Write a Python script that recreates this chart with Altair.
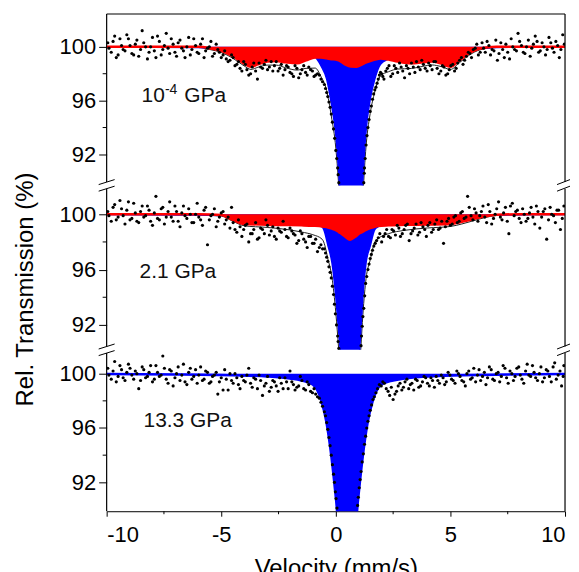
import altair as alt
import pandas as pd

FONT = "Liberation Sans"
W = 460

X_TICKS = [-10, -5, 0, 5, 10]
X_MINOR = [-7.5, -2.5, 2.5, 7.5]
Y_TICKS = [92, 96, 100]
Y_MINOR = [94, 98]

LABEL1 = ["10", "-4", "GPa"]
LABEL2 = ["2.1 GPa"]
LABEL3 = ["13.3 GPa"]
Y_TITLE = "Rel. Transmission (%)"
X_TITLE = "Velocity (mm/s)"

# ---- panel 1 : 10^-4 GPa ----
V1 = [-10, -8, -6, -5.5, -5, -4.5, -4, -3.7, -3.4, -3, -2.6, -2.2, -1.7, -1.3, -0.9,
      -0.65, -0.4, -0.2, 0, 0.15, 0.4, 0.66, 0.9, 1.17, 1.3, 1.5, 1.7, 1.95, 2.3, 2.7,
      3.3, 3.8, 4.2, 4.6, 5.0, 5.4, 5.8, 6.3, 7, 8, 10]
RED1 = [100, 100, 100, 99.9, 99.7, 99.3, 98.75, 98.52, 98.7, 98.9, 98.95, 98.85, 98.77, 99.0, 99.2,
        99.2, 99.15, 99.08, 99.05, 98.98, 98.7, 98.53, 98.52, 98.72, 98.82, 98.95, 99.05, 99.14, 99.05, 98.9,
        98.77, 98.85, 98.9, 98.75, 98.52, 99.0, 99.5, 99.88, 100, 100, 100]
BLUE1 = [99.98, 99.97, 99.95, 99.9, 99.88, 99.86, 99.83, 99.8, 99.78, 99.74, 99.69, 99.6, 99.5, 99.4, 99.22,
         98.6, 97.6, 95.8, 93.4, 90.0, 80, 78, 80, 89.8, 93.4, 96.1, 97.6, 98.7, 99.1, 99.45,
         99.62, 99.7, 99.75, 99.78, 99.8, 99.83, 99.86, 99.9, 99.95, 99.97, 99.98]
DOTS1 = [(-9.95, 100.3), (-9.8, 99.6), (-9.65, 100.8), (-9.5, 99.4), (-9.35, 100.1), (-9.2, 99.7),
         (-9.05, 100.6), (-8.9, 99.5), (-8.75, 100.2), (-8.6, 99.3), (-8.45, 101.2), (-8.3, 100.0),
         (-8.15, 99.6), (-8.0, 100.7), (-7.85, 99.2), (-7.7, 100.4), (-7.55, 99.8), (-7.4, 101.0),
         (-7.25, 99.5), (-7.1, 100.2), (-6.95, 99.3), (-6.8, 100.5), (-6.65, 99.7), (-6.5, 100.0),
         (-6.35, 99.4), (-6.2, 100.6), (-6.05, 99.6), (-5.9, 100.2), (-5.75, 99.2), (-5.6, 99.9),
         (-5.45, 100.4), (-5.3, 99.5), (-5.15, 99.8), (-5.0, 99.2), (-4.85, 99.7), (-4.7, 98.9),
         (-4.55, 99.4), (-4.4, 98.6), (-4.25, 98.9), (-4.1, 98.2), (-3.95, 98.7), (-3.8, 97.9),
         (-3.65, 98.5), (-3.5, 98.2), (-3.35, 98.8), (-3.2, 98.4), (-3.05, 99.0), (-2.9, 98.5),
         (-2.75, 98.2), (-2.6, 98.9), (-2.45, 98.4), (-2.3, 97.9), (-2.15, 98.6), (-2.0, 98.1),
         (-1.85, 97.8), (-1.7, 98.4), (-1.55, 98.0), (-1.4, 98.6), (-1.25, 97.9), (-1.1, 98.3),
         (-0.95, 97.8), (-0.8, 98.0), (-0.65, 97.6), (-0.5, 97.2), (-0.4, 96.6), (-0.3, 95.9),
         (-0.2, 95.0), (-0.1, 93.9), (0.0, 92.3), (0.08, 91.0), (0.13, 89.9), (1.22, 89.9),
         (1.25, 91.0), (1.32, 92.7), (1.4, 94.0), (1.5, 95.2), (1.6, 96.1), (1.7, 96.8),
         (1.8, 97.3), (1.9, 97.9), (2.0, 98.0), (2.1, 97.6), (2.25, 98.4), (2.4, 97.8),
         (2.55, 98.6), (2.7, 98.1), (2.85, 98.5), (3.0, 97.7), (3.15, 98.4), (3.3, 98.8),
         (3.45, 98.1), (3.6, 98.5), (3.75, 99.0), (3.9, 98.4), (4.05, 98.8), (4.2, 98.3),
         (4.35, 98.9), (4.5, 98.0), (4.65, 98.6), (4.8, 97.9), (4.95, 98.3), (5.1, 98.7),
         (5.25, 98.4), (5.4, 99.0), (5.55, 98.7), (5.7, 99.3), (5.85, 99.5), (6.0, 99.8),
         (6.15, 100.2), (6.3, 99.6), (6.45, 99.9), (6.6, 100.4), (6.75, 99.4), (6.9, 99.7),
         (7.05, 99.0), (7.2, 100.3), (7.35, 99.2), (7.5, 99.6), (7.65, 100.6), (7.8, 99.8),
         (7.95, 101.0), (8.1, 100.1), (8.25, 99.5), (8.4, 100.5), (8.55, 99.9), (8.7, 100.8),
         (8.85, 99.6), (9.0, 100.3), (9.15, 99.4), (9.3, 100.7), (9.45, 99.9), (9.6, 100.4),
         (9.75, 99.2), (9.9, 100.9)]
DOTS1B = [(-9.9, 99.9), (-9.72, 100.4), (-9.58, 99.2), (-9.42, 100.6), (-9.28, 99.8), (-9.12, 100.9),
          (-8.98, 100.1), (-8.82, 99.4), (-8.68, 100.5), (-8.52, 99.8), (-8.38, 100.3), (-8.22, 99.1),
          (-8.08, 100.0), (-7.92, 99.7), (-7.78, 100.8), (-7.62, 99.4), (-7.48, 100.1), (-7.32, 99.9),
          (-7.18, 100.6), (-7.02, 99.6), (-6.88, 100.3), (-6.72, 99.9), (-6.58, 99.2), (-6.42, 100.7),
          (-6.28, 99.8), (-6.12, 100.1), (-5.98, 99.5), (-5.82, 100.6), (-5.68, 99.7), (-5.52, 100.0),
          (-5.38, 99.3), (-5.22, 100.2), (-5.08, 99.6), (-4.92, 99.4), (-4.78, 99.1), (-4.62, 99.0),
          (-4.48, 99.2), (-4.32, 98.7), (-4.18, 98.4), (-4.02, 98.9), (-3.88, 98.3), (-3.72, 98.0),
          (-3.58, 98.8), (-3.42, 97.6), (-3.28, 98.5), (-3.12, 98.7), (-2.98, 98.3), (-2.82, 98.9),
          (-2.68, 98.6), (-2.52, 98.2), (-2.38, 98.7), (-2.22, 98.3), (-2.08, 98.5), (-1.92, 98.0),
          (-1.78, 98.6), (-1.62, 97.7), (-1.48, 98.3), (-1.32, 98.1), (-1.18, 98.5), (-1.02, 98.2),
          (-0.88, 97.9), (-0.72, 97.9), (-0.58, 97.4), (-0.45, 96.9), (-0.35, 96.3), (-0.25, 95.5),
          (-0.15, 94.4), (-0.05, 93.2), (0.04, 91.7), (0.1, 90.5), (1.24, 90.6), (1.28, 91.7),
          (1.36, 93.4), (1.45, 94.6), (1.55, 95.6), (1.65, 96.5), (1.75, 97.0), (1.85, 97.6),
          (1.95, 98.1), (2.05, 97.8), (2.18, 98.2), (2.32, 98.6), (2.48, 98.0), (2.62, 98.4),
          (2.78, 98.8), (2.92, 98.2), (3.08, 98.6), (3.22, 98.0), (3.38, 98.5), (3.52, 98.9),
          (3.68, 98.3), (3.82, 98.7), (3.98, 98.2), (4.12, 98.6), (4.28, 98.9), (4.42, 98.4),
          (4.58, 98.2), (4.72, 98.5), (4.88, 98.0), (5.02, 98.6), (5.18, 98.2), (5.32, 98.8),
          (5.48, 99.2), (5.62, 99.0), (5.78, 99.6), (5.92, 99.2), (6.08, 99.9), (6.22, 99.4),
          (6.38, 100.3), (6.52, 99.6), (6.68, 100.1), (6.82, 99.8), (6.98, 100.5), (7.12, 99.5),
          (7.28, 99.8), (7.42, 100.2), (7.58, 99.1), (7.72, 100.0), (7.88, 99.7), (8.02, 100.4),
          (8.18, 99.6), (8.32, 100.0), (8.48, 99.3), (8.62, 100.2), (8.78, 100.4), (8.92, 99.7),
          (9.08, 100.0), (9.22, 99.8), (9.38, 100.3), (9.52, 99.6), (9.68, 100.1), (9.82, 99.8),
          (9.97, 100.2)]

# ---- panel 2 : 2.1 GPa ----
V2 = [-10, -6, -5, -4.5, -4, -3, -2, -1.5, -1, -0.6, -0.53, -0.34, -0.17, 0, 0.12,
      0.2, 0.4, 0.62, 0.85, 1.03, 1.09, 1.18, 1.32, 1.5, 1.7, 1.85, 2.3, 3, 4, 5,
      5.5, 6, 6.5, 7, 8, 10]
RED2 = [100, 100, 99.95, 99.6, 99.3, 99.25, 99.22, 99.2, 99.17, 99.12, 99.1, 99.04, 98.96, 98.86, 98.73,
        98.64, 98.4, 98.16, 98.38, 98.62, 98.67, 98.75, 98.87, 99.0, 99.1, 99.15, 99.2, 99.24, 99.26, 99.3,
        99.45, 99.65, 99.85, 99.97, 100, 100]
BLUE2 = [99.98, 99.95, 99.92, 99.9, 99.87, 99.8, 99.65, 99.52, 99.35, 99.08, 98.9, 97.7, 96.5, 94.0, 91.6,
         89.9, 81, 79, 81, 89.9, 91.6, 94.0, 96.5, 97.7, 98.9, 99.1, 99.4, 99.6, 99.75, 99.82,
         99.85, 99.88, 99.91, 99.94, 99.97, 99.98]
DOTS2 = [(-9.95, 100.2), (-9.8, 99.5), (-9.65, 100.7), (-9.5, 99.8), (-9.35, 100.4), (-9.2, 99.3),
         (-9.05, 100.9), (-8.9, 99.7), (-8.75, 100.1), (-8.6, 99.4), (-8.45, 100.6), (-8.3, 99.9),
         (-8.15, 100.3), (-8.0, 99.2), (-7.85, 101.3), (-7.7, 99.6), (-7.55, 100.5), (-7.4, 99.8),
         (-7.25, 100.9), (-7.1, 99.5), (-6.95, 100.2), (-6.8, 99.1), (-6.65, 100.6), (-6.5, 99.7),
         (-6.35, 100.0), (-6.2, 99.4), (-6.05, 100.8), (-5.9, 99.6), (-5.75, 100.3), (-5.6, 97.8),
         (-5.45, 99.9), (-5.3, 100.4), (-5.15, 99.5), (-5.0, 100.1), (-4.85, 99.3), (-4.7, 99.8),
         (-4.55, 100.5), (-4.4, 98.9), (-4.25, 99.6), (-4.1, 98.4), (-3.95, 99.2), (-3.8, 98.0),
         (-3.65, 98.6), (-3.5, 99.4), (-3.35, 98.3), (-3.2, 98.9), (-3.05, 99.6), (-2.9, 98.5),
         (-2.75, 99.1), (-2.6, 98.2), (-2.45, 98.8), (-2.3, 99.5), (-2.15, 98.4), (-2.0, 99.0),
         (-1.85, 98.6), (-1.7, 97.9), (-1.55, 98.8), (-1.4, 98.2), (-1.25, 97.6), (-1.1, 98.4),
         (-0.95, 97.9), (-0.8, 97.3), (-0.65, 97.8), (-0.5, 97.5), (-0.4, 96.9), (-0.3, 96.2),
         (-0.2, 95.4), (-0.1, 94.2), (-0.02, 92.8), (0.08, 91.2), (0.13, 90.3), (1.1, 90.5),
         (1.15, 91.9), (1.22, 93.2), (1.3, 95.0), (1.4, 96.0), (1.5, 96.8), (1.6, 97.4),
         (1.72, 97.9), (1.85, 98.3), (2.0, 98.0), (2.15, 98.6), (2.3, 98.4), (2.45, 98.9),
         (2.6, 98.5), (2.75, 99.0), (2.9, 98.6), (3.05, 99.2), (3.2, 98.1), (3.35, 98.8),
         (3.5, 99.3), (3.65, 98.7), (3.8, 99.1), (3.95, 98.4), (4.1, 99.4), (4.25, 98.9),
         (4.4, 99.6), (4.55, 99.0), (4.7, 97.9), (4.85, 99.5), (5.0, 99.2), (5.15, 99.8),
         (5.3, 99.4), (5.45, 100.1), (5.6, 99.7), (5.75, 101.3), (5.9, 99.9), (6.05, 100.4),
         (6.2, 99.5), (6.35, 100.2), (6.5, 99.8), (6.65, 100.7), (6.8, 99.3), (6.95, 100.0),
         (7.1, 100.9), (7.25, 99.6), (7.4, 100.5), (7.55, 98.6), (7.7, 100.8), (7.85, 100.2),
         (8.0, 99.7), (8.15, 100.4), (8.3, 99.5), (8.45, 100.1), (8.6, 99.8), (8.75, 100.6),
         (8.9, 99.0), (9.05, 100.2), (9.2, 98.2), (9.35, 100.5), (9.5, 99.9), (9.65, 100.3),
         (9.8, 98.9), (9.95, 100.6)]
DOTS2B = [(-9.9, 99.9), (-9.72, 100.5), (-9.58, 99.6), (-9.42, 101.0), (-9.28, 99.9), (-9.12, 100.3),
          (-8.98, 99.6), (-8.82, 100.8), (-8.68, 99.5), (-8.52, 100.2), (-8.38, 99.8), (-8.22, 100.6),
          (-8.08, 99.5), (-7.92, 100.1), (-7.78, 99.7), (-7.62, 100.4), (-7.48, 99.3), (-7.32, 100.2),
          (-7.18, 99.8), (-7.02, 100.6), (-6.88, 99.5), (-6.72, 100.1), (-6.58, 99.9), (-6.42, 100.4),
          (-6.28, 99.4), (-6.12, 100.0), (-5.98, 99.8), (-5.82, 99.2), (-5.68, 100.5), (-5.52, 99.6),
          (-5.38, 100.0), (-5.22, 99.1), (-5.08, 99.8), (-4.92, 100.2), (-4.78, 99.6), (-4.62, 99.0),
          (-4.48, 99.4), (-4.32, 98.7), (-4.18, 99.1), (-4.02, 98.9), (-3.88, 99.3), (-3.72, 98.6),
          (-3.58, 98.9), (-3.42, 98.2), (-3.28, 99.0), (-3.12, 98.6), (-2.98, 99.2), (-2.82, 98.8),
          (-2.68, 98.4), (-2.52, 99.0), (-2.38, 98.7), (-2.22, 98.9), (-2.08, 98.3), (-1.92, 98.8),
          (-1.78, 98.5), (-1.62, 98.1), (-1.48, 98.6), (-1.32, 98.0), (-1.18, 98.4), (-1.02, 97.9),
          (-0.88, 98.2), (-0.72, 97.6), (-0.58, 97.5), (-0.45, 97.2), (-0.35, 96.6), (-0.25, 95.8),
          (-0.15, 94.8), (-0.06, 93.5), (0.03, 92.0), (0.1, 90.8), (1.12, 91.2), (1.18, 92.6),
          (1.26, 94.1), (1.35, 95.5), (1.45, 96.4), (1.55, 97.1), (1.66, 97.7), (1.78, 98.1),
          (1.92, 98.6), (2.08, 98.4), (2.22, 98.9), (2.38, 98.3), (2.52, 98.8), (2.68, 99.2),
          (2.82, 98.4), (2.98, 98.9), (3.12, 99.3), (3.28, 98.6), (3.42, 99.0), (3.58, 98.5),
          (3.72, 99.4), (3.88, 98.9), (4.02, 99.2), (4.18, 98.7), (4.32, 99.3), (4.48, 98.9),
          (4.62, 99.5), (4.78, 99.1), (4.92, 99.7), (5.08, 99.3), (5.22, 99.9), (5.38, 99.5),
          (5.52, 100.2), (5.68, 99.8), (5.82, 100.5), (5.98, 99.6), (6.12, 100.1), (6.28, 99.9),
          (6.42, 100.6), (6.58, 99.4), (6.72, 100.2), (6.88, 99.7), (7.02, 100.4), (7.18, 99.8),
          (7.32, 100.1), (7.48, 99.5), (7.62, 100.6), (7.78, 99.9), (7.92, 100.3), (8.08, 99.4),
          (8.22, 100.0), (8.38, 99.7), (8.52, 100.5), (8.68, 99.3), (8.82, 100.2), (8.98, 99.8),
          (9.12, 100.4), (9.28, 99.6), (9.42, 100.0), (9.58, 99.4), (9.72, 100.3), (9.88, 99.7)]

# ---- panel 3 : 13.3 GPa ----
V3 = [-10, -7, -4.5, -3, -2, -1.5, -1.01, -0.63, -0.41, -0.2, -0.04, 0.05, 0.25, 0.49,
      0.73, 0.93, 1.02, 1.18, 1.39, 1.61, 1.99, 2.5, 3, 4, 5.5, 7, 10]
BLUE3 = [99.97, 99.94, 99.88, 99.8, 99.65, 99.5, 99.2, 98.0, 96.42, 93.97, 91.52, 89.93, 82, 79,
         82, 89.93, 91.52, 93.97, 96.42, 98.0, 99.2, 99.5, 99.65, 99.8, 99.88, 99.93, 99.97]
DOTS3 = [(-9.95, 100.4), (-9.8, 99.6), (-9.65, 100.9), (-9.5, 99.8), (-9.35, 100.3), (-9.2, 99.5),
         (-9.05, 100.7), (-8.9, 99.9), (-8.75, 100.2), (-8.6, 98.9), (-8.45, 100.5), (-8.3, 99.7),
         (-8.15, 100.1), (-8.0, 99.4), (-7.85, 100.6), (-7.7, 99.8), (-7.55, 101.3), (-7.4, 99.6),
         (-7.25, 100.3), (-7.1, 99.1), (-6.95, 100.0), (-6.8, 99.5), (-6.65, 100.7), (-6.5, 99.2),
         (-6.35, 100.4), (-6.2, 99.8), (-6.05, 99.3), (-5.9, 100.5), (-5.75, 99.6), (-5.6, 100.1),
         (-5.45, 99.4), (-5.3, 99.9), (-5.15, 98.5), (-5.0, 99.7), (-4.85, 100.3), (-4.7, 98.8),
         (-4.55, 99.5), (-4.4, 100.0), (-4.25, 99.2), (-4.1, 99.8), (-3.95, 99.4), (-3.8, 100.4),
         (-3.65, 99.0), (-3.5, 99.6), (-3.35, 99.9), (-3.2, 98.4), (-3.05, 99.3), (-2.9, 98.7),
         (-2.75, 99.5), (-2.6, 99.1), (-2.45, 99.7), (-2.3, 98.9), (-2.15, 99.4), (-2.0, 100.2),
         (-1.85, 99.2), (-1.7, 99.0), (-1.55, 99.8), (-1.4, 98.9), (-1.25, 99.4), (-1.1, 98.7),
         (-0.95, 98.9), (-0.8, 98.3), (-0.65, 97.9), (-0.5, 97.2), (-0.4, 96.4), (-0.3, 95.3),
         (-0.2, 94.0), (-0.1, 92.6), (-0.02, 91.3), (0.05, 90.1), (0.95, 90.3), (1.02, 91.6),
         (1.1, 92.8), (1.2, 94.1), (1.3, 95.4), (1.4, 96.5), (1.5, 97.3), (1.62, 98.1),
         (1.75, 98.6), (1.9, 99.2), (2.05, 99.4), (2.2, 98.9), (2.35, 98.4), (2.5, 98.1),
         (2.65, 98.7), (2.8, 99.3), (2.95, 99.0), (3.1, 99.6), (3.25, 99.2), (3.4, 98.8),
         (3.55, 99.5), (3.7, 99.1), (3.85, 99.8), (4.0, 99.3), (4.15, 99.7), (4.3, 99.0),
         (4.45, 99.5), (4.6, 99.9), (4.75, 99.2), (4.9, 100.1), (5.05, 99.6), (5.2, 99.3),
         (5.35, 100.0), (5.5, 99.5), (5.65, 99.1), (5.8, 100.2), (5.95, 99.7), (6.1, 99.4),
         (6.25, 100.3), (6.4, 99.8), (6.55, 99.2), (6.7, 100.5), (6.85, 99.6), (7.0, 100.0),
         (7.15, 99.4), (7.3, 100.6), (7.45, 99.7), (7.6, 100.2), (7.75, 99.5), (7.9, 100.4),
         (8.05, 99.9), (8.2, 99.3), (8.35, 100.7), (8.5, 99.8), (8.65, 100.1), (8.8, 99.5),
         (8.95, 100.5), (9.1, 99.7), (9.25, 100.2), (9.4, 99.4), (9.55, 100.8), (9.7, 99.9),
         (9.85, 99.1), (9.95, 100.6)]
DOTS3B = [(-9.9, 99.9), (-9.72, 100.2), (-9.58, 99.4), (-9.42, 100.6), (-9.28, 99.7), (-9.12, 100.1),
          (-8.98, 100.4), (-8.82, 99.6), (-8.68, 100.0), (-8.52, 99.5), (-8.38, 100.3), (-8.22, 99.8),
          (-8.08, 100.6), (-7.92, 99.6), (-7.78, 100.1), (-7.62, 99.9), (-7.48, 100.4), (-7.32, 99.3),
          (-7.18, 100.2), (-7.02, 99.7), (-6.88, 100.5), (-6.72, 99.9), (-6.58, 99.4), (-6.42, 100.1),
          (-6.28, 99.6), (-6.12, 100.3), (-5.98, 99.9), (-5.82, 99.5), (-5.68, 100.2), (-5.52, 99.3),
          (-5.38, 99.8), (-5.22, 100.1), (-5.08, 99.4), (-4.92, 98.8), (-4.78, 99.6), (-4.62, 100.0),
          (-4.48, 99.3), (-4.32, 99.7), (-4.18, 98.9), (-4.02, 99.5), (-3.88, 99.9), (-3.72, 99.3),
          (-3.58, 99.7), (-3.42, 98.9), (-3.28, 99.5), (-3.12, 99.1), (-2.98, 99.8), (-2.82, 99.0),
          (-2.68, 99.4), (-2.52, 98.7), (-2.38, 99.3), (-2.22, 99.7), (-2.08, 98.9), (-1.92, 99.4),
          (-1.78, 98.8), (-1.62, 99.1), (-1.48, 99.5), (-1.32, 98.8), (-1.18, 99.2), (-1.02, 98.6),
          (-0.88, 98.5), (-0.72, 98.2), (-0.58, 97.6), (-0.45, 96.9), (-0.35, 95.9), (-0.25, 94.7),
          (-0.15, 93.3), (-0.06, 92.0), (0.01, 90.8), (0.98, 90.9), (1.06, 92.2), (1.15, 93.5),
          (1.25, 94.8), (1.35, 96.0), (1.45, 96.9), (1.56, 97.7), (1.68, 98.3), (1.82, 98.9),
          (1.98, 99.1), (2.12, 99.3), (2.28, 98.7), (2.42, 99.0), (2.58, 98.5), (2.72, 99.1),
          (2.88, 98.8), (3.02, 99.4), (3.18, 98.9), (3.32, 99.3), (3.48, 99.6), (3.62, 99.0),
          (3.78, 99.4), (3.92, 99.7), (4.08, 99.1), (4.22, 99.5), (4.38, 99.8), (4.52, 99.3),
          (4.68, 99.7), (4.82, 99.4), (4.98, 99.9), (5.12, 99.5), (5.28, 100.2), (5.42, 99.8),
          (5.58, 99.4), (5.72, 100.0), (5.88, 99.6), (6.02, 100.4), (6.18, 99.9), (6.32, 99.5),
          (6.48, 100.1), (6.62, 99.7), (6.78, 100.3), (6.92, 99.5), (7.08, 100.1), (7.22, 99.8),
          (7.38, 100.4), (7.52, 99.3), (7.68, 100.0), (7.82, 99.8), (7.98, 100.5), (8.12, 99.6),
          (8.28, 100.2), (8.42, 99.9), (8.58, 100.6), (8.72, 99.7), (8.88, 100.0), (9.02, 99.4),
          (9.18, 100.3), (9.32, 99.8), (9.48, 100.5), (9.62, 99.6), (9.78, 100.2), (9.92, 99.8)]

xs = alt.Scale(domain=[-10, 10], nice=False, zero=False)
DUMMY = pd.DataFrame({"a": [0]})


def y_axis(title):
    kw = dict(values=Y_TICKS, domain=False, grid=False, tickSize=8, tickColor="black",
              tickWidth=1, labelFontSize=22, labelFont=FONT, labelColor="black", labelPadding=3)
    if title:
        kw.update(title=title, titleFontSize=24, titleFont=FONT, titleFontWeight="normal",
                  titleColor="black", titleX=-74, titleY=104, titleAlign="center",
                  titleBaseline="alphabetic", titleAngle=270)
    else:
        kw["title"] = None
    return alt.Axis(**kw)


X_AXIS = alt.Axis(values=X_TICKS, labelExpr="'' + datum.value", grid=False, tickSize=5,
                  tickColor="black", domainColor="black", labelFontSize=22, labelFont=FONT,
                  labelColor="black", labelPadding=8, title=X_TITLE, titleFontSize=24,
                  titleFont=FONT, titleFontWeight="normal", titleColor="black", titlePadding=11)


def vline(x, y0, y1):
    return alt.Chart(DUMMY).mark_rule(color="black", strokeWidth=1.2).encode(
        x=alt.value(x), y=alt.value(y0), y2=alt.value(y1))


def slashes(x, b, left, right):
    out = []
    for c in (b - 3.3, b + 3.3):
        out.append(alt.Chart(DUMMY).mark_rule(color="black", strokeWidth=1).encode(
            x=alt.value(x - left), x2=alt.value(x + right), y=alt.value(c + 2.5), y2=alt.value(c - 2.5)))
    return out


def panel(V, BLUE, RED, DOTS, ydom, H, texts, xaxis, ytitle, top_border, break_top, break_bottom):
    ys = alt.Scale(domain=ydom, nice=False, zero=False)
    yax = y_axis(ytitle)
    if RED is None:
        fit = list(BLUE)
    else:
        fit = [r + b - 100 for r, b in zip(RED, BLUE)]
    cur = pd.DataFrame({"v": V, "blue": BLUE, "fit": fit, "base": [100] * len(V)})
    if RED is not None:
        cur["red"] = RED

    def X():
        return alt.X("v:Q", scale=xs, axis=xaxis)

    blue_w = 2.5 if RED is None else 1.5
    layers = [
        alt.Chart(cur).mark_line(color="#222222", strokeWidth=1, interpolate="monotone", clip=True)
        .encode(x=X(), y=alt.Y("fit:Q", scale=ys, axis=yax)),
        alt.Chart(cur).mark_area(color="#0000ff", opacity=1, interpolate="monotone", clip=True)
        .encode(x=X(), y=alt.Y("blue:Q", scale=ys, axis=yax), y2=alt.Y2("base:Q")),
        alt.Chart(cur).mark_line(color="#0000ff", strokeWidth=blue_w, interpolate="monotone", clip=True)
        .encode(x=X(), y=alt.Y("blue:Q", scale=ys, axis=yax)),
    ]
    if RED is not None:
        layers += [
            alt.Chart(cur).mark_area(color="#ff0000", opacity=1, interpolate="monotone", clip=True)
            .encode(x=X(), y=alt.Y("red:Q", scale=ys, axis=yax), y2=alt.Y2("base:Q")),
            alt.Chart(cur).mark_line(color="#ff0000", strokeWidth=2.5, interpolate="monotone", clip=True)
            .encode(x=X(), y=alt.Y("red:Q", scale=ys, axis=yax)),
        ]
    dots = pd.DataFrame(DOTS, columns=["v", "t"])
    layers.append(alt.Chart(dots).mark_circle(size=10, color="black", opacity=1, clip=True)
                  .encode(x=X(), y=alt.Y("t:Q", scale=ys, axis=yax)))
    layers.append(alt.Chart(pd.DataFrame({"m": Y_MINOR})).mark_rule(color="black", strokeWidth=1)
                  .encode(y=alt.Y("m:Q", scale=ys, axis=yax), x=alt.value(-4), x2=alt.value(0)))
    if xaxis is not None:
        layers.append(alt.Chart(pd.DataFrame({"m": X_MINOR})).mark_rule(color="black", strokeWidth=1)
                      .encode(x=alt.X("m:Q", scale=xs, axis=xaxis), y=alt.value(H), y2=alt.value(H + 3)))
    y0 = 3.3 if break_top else 0
    y1 = H - 3.3 if break_bottom else H
    layers.append(vline(0, y0, y1))
    layers.append(vline(W, y0, y1))
    if top_border:
        layers.append(alt.Chart(DUMMY).mark_rule(color="black", strokeWidth=1.2).encode(
            x=alt.value(0), x2=alt.value(W), y=alt.value(0)))
    if break_bottom:
        layers += slashes(0, H, 8, 8)
        layers += slashes(W, H, 8, 5)
    for txt, x, y, fs in texts:
        layers.append(alt.Chart(pd.DataFrame({"t": [txt]})).mark_text(
            align="left", baseline="alphabetic", fontSize=fs, font=FONT, color="#111111")
            .encode(text="t:N", x=alt.value(x), y=alt.value(y)))
    return alt.layer(*layers).properties(width=W, height=H)


p1 = panel(V1, BLUE1, RED1, DOTS1 + DOTS1B, [89.70, 102.44], 172,
           [(LABEL1[0], 35, 88, 21), (LABEL1[1], 58.5, 80, 14), (LABEL1[2], 78, 88, 21)],
           None, None, True, False, True)
p2 = panel(V2, BLUE2, RED2, DOTS2 + DOTS2B, [90.2, 102.09], 165,
           [(LABEL2[0], 33, 93, 21)], None, Y_TITLE, False, True, True)
p3 = panel(V3, BLUE3, None, DOTS3 + DOTS3B, [89.87, 101.76], 162,
           [(LABEL3[0], 37, 77, 21)], X_AXIS, None, False, True, False)

chart = alt.vconcat(p1, p2, p3, spacing=0, bounds="flush").properties(
    padding={"left": 5, "top": 4, "right": 0, "bottom": 0}
).configure_view(stroke=None)

chart.save("out.html", embed_options={"renderer": "svg", "actions": False})
